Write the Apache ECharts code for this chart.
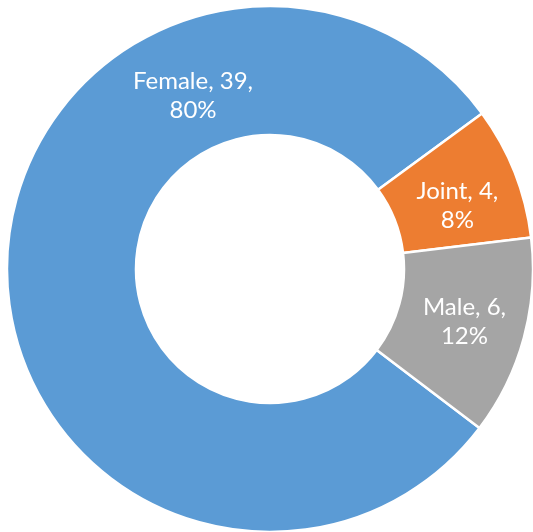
<!DOCTYPE html>
<html>
<head>
<meta charset="utf-8">
<script src="https://cdn.jsdelivr.net/npm/echarts@6/dist/echarts.min.js"></script>
<style>
  html, body { margin: 0; padding: 0; background: #fff; }
  #chart { width: 533px; height: 532px; }
</style>
</head>
<body>
<div id="chart"></div>
<script>
// data
const categories = ['Female', 'Joint', 'Male']
const counts = [39, 4, 6]
const colors = ['#5B9BD5', '#ED7D31', '#A5A5A5']

const total = counts.reduce((a, b) => a + b, 0)
const chart = echarts.init(document.getElementById('chart'))

chart.setOption({
  animation: false,
  color: colors,
  series: [
    {
      type: 'pie',
      center: [270, 269],
      radius: [134, 263],
      startAngle: 322.8,
      clockwise: true,
      avoidLabelOverlap: false,
      itemStyle: {
        borderColor: '#fff',
        borderWidth: 2.5
      },
      label: {
        show: true,
        position: 'inside',
        color: '#fff',
        fontFamily: 'Lato',
        fontSize: 24,
        lineHeight: 29,
        align: 'center',
        formatter: p => p.name + ', ' + p.value + ',\n' + Math.round(p.value / total * 100) + '%'
      },
      // Female label sits near the top of its slice, Joint a little lower
      labelLayout: function(params) {
        if (params.dataIndex === 0) return { x: 193, y: 96, align: 'center', verticalAlign: 'middle' }
        if (params.dataIndex === 1) return { dy: 11 }
        return {}
      },
      labelLine: { show: false },
      emphasis: { disabled: true },
      data: categories.map((c, i) => ({ name: c, value: counts[i] }))
    }
  ]
})
</script>
</body>
</html>
